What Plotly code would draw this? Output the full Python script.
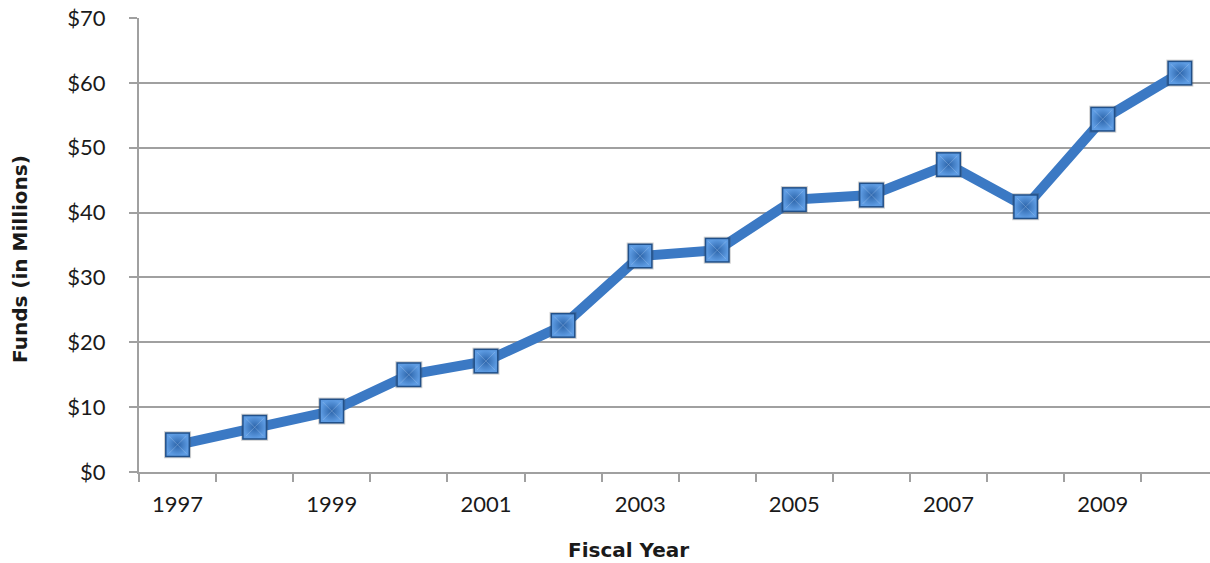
import plotly.graph_objects as go

# Annual funds, fiscal years 1997-2010 (millions of dollars)
years = [1997, 1998, 1999, 2000, 2001, 2002, 2003, 2004, 2005, 2006, 2007, 2008, 2009, 2010]
funds = [4.2, 6.9, 9.4, 15.0, 17.1, 22.6, 33.3, 34.2, 42.0, 42.7, 47.4, 40.9, 54.4, 61.5]

label_years = [1997, 1999, 2001, 2003, 2005, 2007, 2009]
y_ticks = [0, 10, 20, 30, 40, 50, 60, 70]
y_labels = ["$" + str(v) for v in y_ticks]
boundaries = [y - 0.5 for y in years]

LINE_BLUE = "#3b79c4"
AXIS_GREY = "#a0a0a0"
FONT = "Lato"
TITLE_FONT = "DejaVu Sans"

fig = go.Figure()

fig.add_trace(go.Scatter(
    x=years, y=funds, mode="lines",
    line=dict(color=LINE_BLUE, width=10),
    hoverinfo="skip", showlegend=False,
))

# Square markers: soft shadow, dark rim, then a shaded face
fig.add_trace(go.Scatter(
    x=years, y=funds, mode="markers",
    marker=dict(symbol="square", size=27, color="rgba(60,60,60,0.25)",
                line=dict(width=0)),
    hoverinfo="skip", showlegend=False,
))
fig.add_trace(go.Scatter(
    x=years, y=funds, mode="markers",
    marker=dict(symbol="square", size=25, color="#215089",
                line=dict(width=0)),
    hoverinfo="skip", showlegend=False,
))
fig.add_trace(go.Scatter(
    x=years, y=funds, mode="markers",
    marker=dict(symbol="square", size=22, color="#5d9be2",
                gradient=dict(type="radial", color="#2c64a9"),
                line=dict(width=0)),
    hoverinfo="skip", showlegend=False,
))
fig.add_trace(go.Scatter(
    x=years, y=funds, mode="markers",
    marker=dict(symbol="x-thin", size=18, color="rgba(190,215,250,0.3)",
                line=dict(width=1, color="rgba(190,215,250,0.3)")),
    hoverinfo="skip", showlegend=False,
))

fig.update_layout(
    width=1210, height=563,
    margin=dict(l=139, r=0, t=18, b=91),
    paper_bgcolor="white", plot_bgcolor="white",
    font=dict(family=FONT, size=22, color="#1a1a1a"),
    xaxis=dict(
        range=[1996.5, 1996.5 + (1210 - 139) / 77.1],
        tickmode="array", tickvals=label_years,
        ticktext=[str(v) for v in label_years],
        ticks="", showgrid=False, zeroline=False,
        showline=True, linecolor=AXIS_GREY, linewidth=2,
        ticklabelstandoff=12,
        minor=dict(tickmode="array", tickvals=boundaries, ticks="outside",
                   ticklen=8, tickwidth=1.5, tickcolor=AXIS_GREY, showgrid=False),
    ),
    yaxis=dict(
        range=[0, 70],
        tickmode="array", tickvals=y_ticks, ticktext=y_labels,
        ticks="outside", ticklen=8, tickwidth=1.5, tickcolor=AXIS_GREY,
        showgrid=True, gridcolor=AXIS_GREY, gridwidth=1.5,
        zeroline=False, showline=True, linecolor=AXIS_GREY, linewidth=2,
        ticklabelstandoff=19,
    ),
)

fig.add_annotation(
    text="<b>Fiscal Year</b>", xref="paper", yref="paper",
    x=(628 - 139) / (1210 - 139), y=-(550 - 472) / (472 - 18),
    showarrow=False, xanchor="center", yanchor="middle",
    font=dict(family=TITLE_FONT, size=20, color="#1a1a1a"),
)
fig.add_annotation(
    text="<b>Funds (in Millions)</b>", xref="paper", yref="paper",
    x=-(139 - 20) / (1210 - 139), y=(472 - 259) / (472 - 18),
    textangle=-90, showarrow=False, xanchor="center", yanchor="middle",
    font=dict(family=TITLE_FONT, size=20, color="#1a1a1a"),
)

fig.write_html("out.html")
